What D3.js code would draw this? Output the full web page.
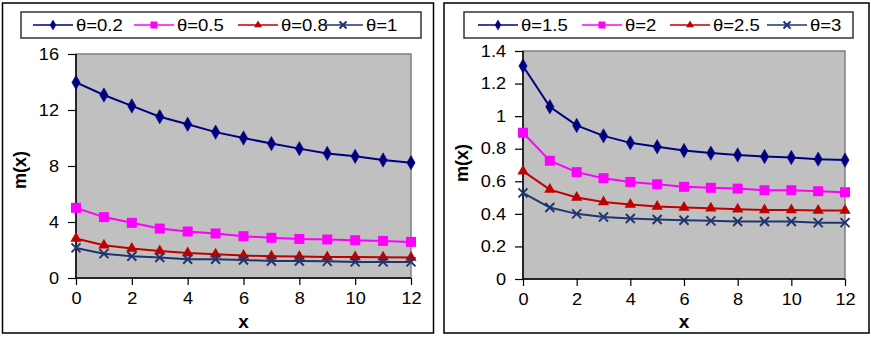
<!DOCTYPE html>
<html><head><meta charset="utf-8">
<script src="https://cdn.jsdelivr.net/npm/d3@7"></script>
<style>
html,body{margin:0;padding:0;background:#fff;}
text{font-family:"Liberation Sans",Arial,sans-serif;}
</style></head>
<body><svg id="c" width="871" height="337"></svg>
<script>
// ---------- data ----------
const xValues = [0,1,2,3,4,5,6,7,8,9,10,11,12];
const xTicks = [0,2,4,6,8,10,12];

const leftLabels = ["θ=0.2","θ=0.5","θ=0.8","θ=1"];
const left_theta02 = [13.97,13.07,12.29,11.52,10.98,10.42,10.0,9.6,9.24,8.9,8.69,8.43,8.24];
const left_theta05 = [5.01,4.35,3.94,3.53,3.32,3.18,2.99,2.87,2.79,2.75,2.70,2.65,2.58];
const left_theta08 = [2.82,2.34,2.10,1.93,1.79,1.70,1.60,1.55,1.53,1.50,1.50,1.48,1.46];
const left_theta1  = [2.15,1.74,1.55,1.46,1.34,1.34,1.29,1.22,1.22,1.19,1.15,1.15,1.15];
const leftYTicks = [0,4,8,12,16];

const rightLabels = ["θ=1.5","θ=2","θ=2.5","θ=3"];
const right_theta15 = [1.308,1.058,0.943,0.879,0.836,0.812,0.789,0.773,0.762,0.752,0.746,0.736,0.730];
const right_theta2  = [0.898,0.726,0.656,0.619,0.596,0.582,0.566,0.560,0.555,0.545,0.545,0.539,0.533];
const right_theta25 = [0.662,0.549,0.500,0.473,0.457,0.445,0.439,0.435,0.428,0.424,0.424,0.420,0.420];
const right_theta3  = [0.529,0.439,0.400,0.381,0.371,0.365,0.361,0.357,0.353,0.353,0.353,0.346,0.346];
const rightYTicks = [0,0.2,0.4,0.6,0.8,1,1.2,1.4];

const seriesColors = ["#000080","#FF00FF","#C00000","#1F356F"];
const seriesMarkers = ["diamond","square","triangle","cross"];

// ---------- drawing ----------
const svg = d3.select("#c");

function stretch(sel, k){
  sel.each(function(){
    const w = this.getComputedTextLength();
    d3.select(this).attr("textLength", w*k).attr("lengthAdjust","spacingAndGlyphs");
  });
}

function marker(g, type, color, size){
  if(type==="diamond"){
    g.append("path").attr("d", d3.symbol(d3.symbolDiamond, size*size*0.6)())
      .attr("fill",color).attr("stroke",color).attr("stroke-width",0.5);
  } else if(type==="square"){
    g.append("rect").attr("x",-size/2).attr("y",-size/2).attr("width",size).attr("height",size)
      .attr("fill",color);
  } else if(type==="triangle"){
    g.append("path").attr("d", d3.symbol(d3.symbolTriangle, size*size*0.55)())
      .attr("fill",color);
  } else {
    const h = size/2;
    g.append("path").attr("d",`M${-h},${-h}L${h},${h}M${-h},${h}L${h},${-h}`)
      .attr("stroke",color).attr("stroke-width",2).attr("fill","none");
  }
}

function panel(cfg){
  const g = svg.append("g");
  g.append("rect").attr("x",cfg.frame[0]).attr("y",cfg.frame[1])
    .attr("width",cfg.frame[2]-cfg.frame[0]).attr("height",cfg.frame[3]-cfg.frame[1])
    .attr("fill","#fff").attr("stroke","#000").attr("stroke-width",1.5);

  const x = d3.scaleLinear().domain([0,12]).range([cfg.plot[0],cfg.plot[1]]);
  const y = d3.scaleLinear().domain([0,cfg.yMax]).range([cfg.plot[3],cfg.plot[2]]);

  g.append("rect").attr("x",cfg.plot[0]).attr("y",cfg.plot[2])
    .attr("width",cfg.plot[1]-cfg.plot[0]).attr("height",cfg.plot[3]-cfg.plot[2])
    .attr("fill","#C0C0C0").attr("stroke","#808080").attr("stroke-width",1.5);

  const yAxis = d3.axisLeft(y).tickValues(cfg.yTicks).tickSize(8).tickPadding(9)
    .tickFormat(d=>d3.format("")(+d.toFixed(2)));
  const ya = g.append("g").attr("transform",`translate(${cfg.plot[0]},0)`).call(yAxis);
  const xAxis = d3.axisBottom(x).tickValues(xTicks).tickSize(7).tickPadding(7);
  const xa = g.append("g").attr("transform",`translate(0,${cfg.plot[3]})`).call(xAxis);
  [ya,xa].forEach(a=>{
    a.attr("font-size",16.5).attr("font-family","'Liberation Sans',Arial,sans-serif");
    a.select(".domain").attr("stroke","#000").attr("stroke-width",1.5);
    a.selectAll(".tick line").attr("stroke","#000").attr("stroke-width",1.2);
    a.selectAll(".tick text").attr("font-size",16.5).attr("fill","#000");
    stretch(a.selectAll(".tick text"), 1.1);
  });
  ya.select(".domain").attr("d",`M0,${cfg.plot[2]}V${cfg.plot[3]}`);
  xa.select(".domain").attr("d",`M${cfg.plot[0]},0H${cfg.plot[1]}`);

  g.append("text").attr("x",(cfg.plot[0]+cfg.plot[1])/2).attr("y",328)
    .attr("text-anchor","middle").attr("font-weight","bold").attr("font-size",19).text("x");
  g.append("text").attr("transform",`translate(${cfg.yTitleX},${cfg.yTitleY}) rotate(-90)`)
    .attr("text-anchor","middle").attr("font-weight","bold").attr("font-size",18).text("m(x)");

  const line = d3.line().x((d,i)=>x(xValues[i])).y(d=>y(d));
  cfg.series.forEach((s,k)=>{
    g.append("path").datum(s).attr("d",line).attr("fill","none")
      .attr("stroke",seriesColors[k]).attr("stroke-width",2);
  });
  cfg.series.forEach((s,k)=>{
    s.forEach((v,i)=>{
      const mg = g.append("g").attr("transform",`translate(${x(xValues[i])},${y(v)})`);
      marker(mg, seriesMarkers[k], seriesColors[k], k===3?9:10);
    });
  });

  const lb = cfg.legendBox;
  g.append("rect").attr("x",lb[0]).attr("y",lb[1]).attr("width",lb[2]-lb[0]).attr("height",lb[3]-lb[1])
    .attr("fill","#fff").attr("stroke","#333").attr("stroke-width",1.5);
  const ly = (lb[1]+lb[3])/2;
  cfg.labels.forEach((lab,k)=>{
    const it = cfg.legendItems[k];
    g.append("line").attr("x1",it[0]).attr("x2",it[0]+40).attr("y1",ly).attr("y2",ly)
      .attr("stroke",seriesColors[k]).attr("stroke-width",1.5);
    const mg = g.append("g").attr("transform",`translate(${it[0]+20},${ly})`);
    marker(mg, seriesMarkers[k], seriesColors[k], 7);
    const t = g.append("text").attr("x",it[0]+43).attr("y",ly+6).attr("font-size",16.5).text(lab);
    stretch(t, 1.12);
  });
}

panel({
  frame:[2.5,3,433.5,333],
  plot:[76,411,54,278],
  yMax:16, yTicks:leftYTicks,
  series:[left_theta02,left_theta05,left_theta08,left_theta1],
  labels:leftLabels,
  legendBox:[21,12,421,38],
  legendItems:[[33],[134],[238],[323]],
  yTitleX:26, yTitleY:170
});
panel({
  frame:[444,3,869,333],
  plot:[523,845,51,279],
  yMax:1.4, yTicks:rightYTicks,
  series:[right_theta15,right_theta2,right_theta25,right_theta3],
  labels:rightLabels,
  legendBox:[464,12,853,38],
  legendItems:[[478],[582],[670],[767]],
  yTitleX:468, yTitleY:163
});
</script></body></html>
